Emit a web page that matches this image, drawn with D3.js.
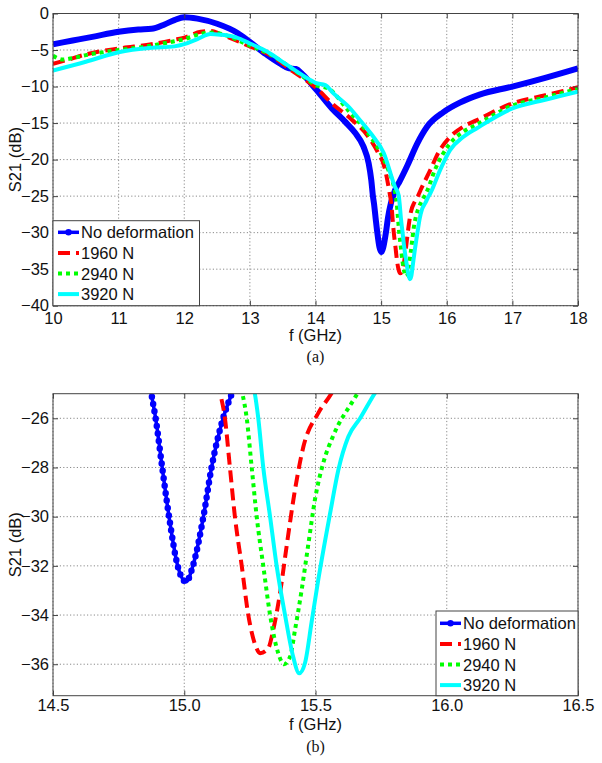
<!DOCTYPE html>
<html><head><meta charset="utf-8">
<script src="https://cdn.jsdelivr.net/npm/d3@7"></script>
<style>
body{margin:0;background:#fff}
</style>
</head><body>
<svg id="c" width="602" height="763" font-family='"Liberation Sans",Arial,sans-serif'></svg>
<script>
// ---------- data ----------
const freqNoDef = [10,10.3,10.6,11.0,11.3,11.5,11.7,11.85,12.0,12.2,12.5,12.8,13.0,13.25,13.45,13.6,13.7,13.8,14.0,14.25,14.45,14.6,14.73,14.81,14.85,14.875,14.891,14.916,14.942,14.975,15.007,15.033,15.073,15.104,15.148,15.181,15.22,15.28,15.4,15.55,15.7,15.95,16.2,16.5,17.0,17.5,18.0];
const s21NoDef  = [-4.2,-3.7,-3.2,-2.5,-2.2,-2.1,-1.5,-0.9,-0.5,-0.7,-1.4,-2.6,-3.9,-5.6,-6.8,-7.5,-7.6,-8.3,-10.3,-13.0,-14.8,-16.3,-18.2,-20.5,-22.8,-25,-26,-28,-30,-32,-32.65,-32,-30,-28,-26,-25,-24.0,-23.0,-20.8,-17.8,-15.5,-13.5,-12.2,-11.1,-10.0,-8.8,-7.5];

const freq1960 = [10,10.2,10.5,11.0,11.5,11.85,12.0,12.25,12.4,12.6,13.0,13.35,13.65,13.85,14.0,14.25,14.55,14.8,14.95,15.05,15.134,15.155,15.174,15.193,15.219,15.244,15.27,15.289,15.32,15.339,15.365,15.39,15.422,15.454,15.51,15.56,15.6,15.75,15.87,16.05,16.25,16.46,17.0,17.5,18.0];
const s21_1960 = [-6.9,-6.4,-5.6,-4.8,-4.2,-3.6,-3.3,-2.5,-2.4,-3.0,-4.5,-5.9,-7.9,-9.1,-10.1,-12.3,-14.5,-16.8,-19.0,-21.0,-24.85,-26,-28,-30,-32,-34,-35.2,-35.55,-35.35,-34.6,-33.1,-31.2,-28.9,-27.15,-25.8,-25.0,-24.2,-21.4,-19.1,-16.9,-15.5,-14.6,-12.3,-11.2,-10.1];

const freq2940 = [10,10.15,10.3,10.5,11.0,11.5,11.85,12.0,12.3,12.45,12.6,13.0,13.35,13.65,13.9,14.0,14.2,14.5,14.8,15.0,15.1,15.219,15.238,15.257,15.276,15.301,15.327,15.358,15.38,15.403,15.422,15.447,15.473,15.498,15.53,15.568,15.648,15.7,15.82,16.05,16.25,16.46,17.0,17.5,18.0];
const s21_2940 = [-5.8,-6.3,-6.1,-5.7,-5.0,-4.4,-3.8,-3.5,-2.7,-2.6,-2.9,-4.4,-5.8,-7.6,-9.2,-9.8,-10.3,-13.3,-16.4,-19.2,-21.2,-24.85,-26,-28,-30,-32,-34,-35.55,-36.0,-35.7,-34.6,-33.0,-31.1,-29.3,-27.8,-26.7,-25.2,-24.3,-21.4,-17.8,-16.2,-15.2,-12.6,-11.5,-10.3];

const freq3920 = [10,10.5,11.0,11.5,11.85,12.0,12.2,12.4,12.55,12.8,13.0,13.26,13.56,13.92,14.0,14.15,14.27,14.53,14.65,14.85,15.04,15.21,15.266,15.282,15.301,15.327,15.352,15.384,15.415,15.438,15.46,15.485,15.51,15.555,15.587,15.625,15.67,15.725,15.75,15.9,16.05,16.25,16.46,17.0,17.5,18.0];
const s21_3920 = [-7.8,-6.6,-5.3,-4.7,-4.5,-4.2,-3.5,-2.8,-2.9,-3.3,-4.1,-5.2,-7.0,-9.1,-9.5,-9.8,-10.9,-13.0,-14.3,-16.5,-19.1,-23.7,-24.85,-26,-28,-30,-32,-34,-35.7,-36.37,-35.95,-34.3,-32.6,-29.9,-28.1,-26.75,-26.0,-25.0,-24.6,-21.4,-18.7,-16.9,-15.7,-13.0,-11.8,-10.7];

const seriesNames = ["No deformation","1960 N","2940 N","3920 N"];
const seriesColors = ["#0000ff","#ff0000","#00ff00","#00ffff"];

const topXTicks = [10,11,12,13,14,15,16,17,18];
const topYTicks = [0,-5,-10,-15,-20,-25,-30,-35,-40];
const botXTicks = [14.5,15.0,15.5,16.0,16.5];
const botYTicks = [-26,-28,-30,-32,-34,-36];

const xLabel = "f (GHz)";
const yLabel = "S21 (dB)";

// ---------- drawing ----------
const SANS = '"Liberation Sans",Arial,sans-serif';
const SERIF = '"Liberation Serif","Times New Roman",serif';
const svg = d3.select("#c");
svg.append("rect").attr("width",602).attr("height",763).attr("fill","#fff");
const defs = svg.append("defs");

const seriesData = [
  {f:freqNoDef, v:s21NoDef},
  {f:freq1960, v:s21_1960},
  {f:freq2940, v:s21_2940},
  {f:freq3920, v:s21_3920}
];

function styleLine(sel, i, big){
  sel.attr("fill","none").attr("stroke",seriesColors[i]).attr("stroke-linejoin","round");
  if(i===0){ sel.attr("stroke-width", big?6:3.5); }
  else if(i===1){ sel.attr("stroke-width",4).attr("stroke-dasharray","12,6"); }
  else if(i===2){ sel.attr("stroke-width",4).attr("stroke-dasharray","4,4"); }
  else { sel.attr("stroke-width",4); }
}

function panel(o){
  const x = d3.scaleLinear().domain(o.xDomain).range([o.left,o.right]);
  const y = d3.scaleLinear().domain(o.yDomain).range([o.bottom,o.top]);
  const g = svg.append("g");
  const cid = "clip"+o.name;
  defs.append("clipPath").attr("id",cid).append("rect")
    .attr("x",o.left).attr("y",o.top).attr("width",o.right-o.left).attr("height",o.bottom-o.top);

  // grid
  g.append("g").selectAll("line").data(o.xTicks).join("line")
    .attr("x1",d=>x(d)).attr("x2",d=>x(d)).attr("y1",o.top).attr("y2",o.bottom)
    .attr("stroke","#8a8a8a").attr("stroke-width",1).attr("stroke-dasharray","1.2,2.2");
  g.append("g").selectAll("line").data(o.yTicks).join("line")
    .attr("y1",d=>y(d)).attr("y2",d=>y(d)).attr("x1",o.left).attr("x2",o.right)
    .attr("stroke","#8a8a8a").attr("stroke-width",1).attr("stroke-dasharray","1.2,2.2");

  // series
  const line = d3.line().x(d=>x(d[0])).y(d=>y(d[1])).curve(d3.curveMonotoneX);
  const sg = g.append("g").attr("clip-path",`url(#${cid})`);
  seriesData.forEach((s,i)=>{
    const pts = d3.zip(s.f,s.v);
    sg.append("path").datum(pts).attr("d",line).call(styleLine,i,o.big);
    if(i===0 && !o.big){
      sg.append("path").datum(pts).attr("d",line).attr("fill","none")
        .attr("stroke",seriesColors[0]).attr("stroke-width",6.5)
        .attr("stroke-linecap","round").attr("stroke-dasharray","0,7.5");
    }
  });

  // axes
  const ax = g.append("g").attr("transform",`translate(0,${o.bottom})`)
    .call(d3.axisBottom(x).tickValues(o.xTicks).tickFormat(o.xFmt).tickSizeInner(-5).tickSizeOuter(0).tickPadding(o.xPad));
  const ay = g.append("g").attr("transform",`translate(${o.left},0)`)
    .call(d3.axisLeft(y).tickValues(o.yTicks).tickFormat(d3.format("d")).tickSizeInner(-5).tickSizeOuter(0).tickPadding(4));
  const at = g.append("g").attr("transform",`translate(0,${o.top})`)
    .call(d3.axisTop(x).tickValues(o.xTicks).tickFormat("").tickSizeInner(-5).tickSizeOuter(0));
  const ar = g.append("g").attr("transform",`translate(${o.right},0)`)
    .call(d3.axisRight(y).tickValues(o.yTicks).tickFormat("").tickSizeInner(-5).tickSizeOuter(0));
  [ax,ay,at,ar].forEach(a=>{
    a.attr("font-family",SANS).attr("font-size",16.5);
    a.select(".domain").remove();
    a.selectAll(".tick line").attr("stroke","#444");
    a.selectAll("text").attr("fill","#111");
  });

  // frame
  g.append("rect").attr("x",o.left).attr("y",o.top).attr("width",o.right-o.left).attr("height",o.bottom-o.top)
    .attr("fill","none").attr("stroke","#444").attr("stroke-width",1);

  // labels
  g.append("text").attr("x",(o.left+o.right)/2).attr("y",o.xLabelY).attr("text-anchor","middle")
    .attr("font-family",SANS).attr("font-size","16.5px").attr("fill","#111").text(xLabel);
  g.append("text").attr("transform",`translate(21,${(o.top+o.bottom)/2}) rotate(-90)`).attr("text-anchor","middle")
    .attr("font-family",SANS).attr("font-size","16.5px").attr("fill","#111").text(yLabel);
  g.append("text").attr("x",(o.left+o.right)/2).attr("y",o.capY).attr("text-anchor","middle")
    .attr("font-size","16px").attr("fill","#111")
    .attr("font-family",SERIF).text(o.caption);

  // legend
  const lg = g.append("g");
  lg.append("rect").attr("x",o.leg.x0).attr("y",o.leg.y0).attr("width",o.leg.x1-o.leg.x0).attr("height",o.leg.y1-o.leg.y0)
    .attr("fill","#fff").attr("stroke","#444").attr("stroke-width",1);
  seriesNames.forEach((nm,i)=>{
    const yy = o.leg.firstY + i*o.leg.step;
    const ln = lg.append("line").attr("x1",o.leg.lx0).attr("x2",o.leg.lx1).attr("y1",yy).attr("y2",yy);
    styleLine(ln,i,false);
    if(i===0){ ln.attr("stroke-width",3.5);
      lg.append("circle").attr("cx",(o.leg.lx0+o.leg.lx1)/2).attr("cy",yy).attr("r",3.2).attr("fill",seriesColors[0]); }
    lg.append("text").attr("x",o.leg.tx).attr("y",yy+6).attr("font-family",SANS).attr("font-size","16.5px").attr("fill","#111").text(nm);
  });
}

panel({name:"a", big:true, xDomain:[10,18], yDomain:[-40,0], left:53, right:578, top:13.5, bottom:305.7,
  xTicks:topXTicks, yTicks:topYTicks, xFmt:d3.format("d"), xPad:6.5, xLabelY:341, capY:362, caption:"(a)",
  leg:{x0:53,x1:199.5,y0:220.7,y1:305.7,firstY:232.3,step:20.6,lx0:58,lx1:79,tx:81}});

panel({name:"b", big:false, xDomain:[14.5,16.5], yDomain:[-37.28,-25], left:53, right:578, top:393.7, bottom:695.7,
  xTicks:botXTicks, yTicks:botYTicks, xFmt:d3.format(".1f"), xPad:4, xLabelY:730, capY:752, caption:"(b)",
  leg:{x0:436,x1:578,y0:611,y1:695.7,firstY:623.3,step:20.6,lx0:440,lx1:461,tx:463}});
</script>
</body></html>
